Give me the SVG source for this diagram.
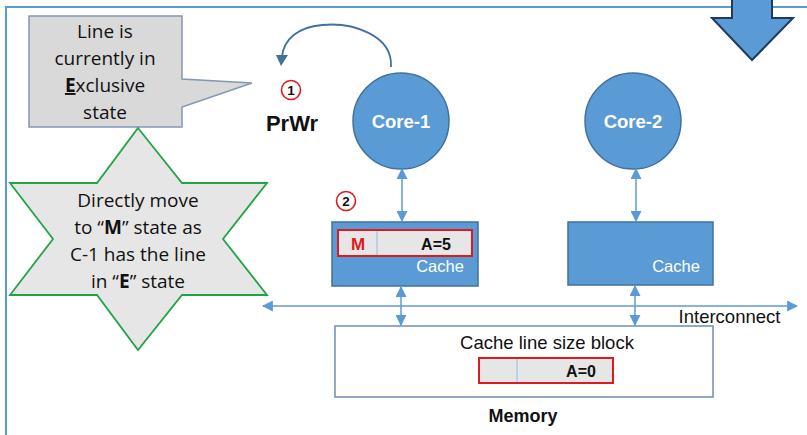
<svg xmlns="http://www.w3.org/2000/svg" width="807" height="435" viewBox="0 0 807 435">
<defs>
<style>
.frame{fill:none;stroke:#5b9bd5;stroke-width:2}
.conn{stroke:#5b9bd5;stroke-width:1.5;fill:none}
.core{fill:#5b9bd5;stroke:#41719c;stroke-width:1.5}
.coretxt{font-family:"Liberation Sans",Arial,sans-serif;font-weight:bold;font-size:18.5px;fill:#fff;text-anchor:middle}
.cache{fill:#5b9bd5;stroke:#41719c;stroke-width:1.5}
.cachetxt{font-family:"Liberation Sans",Arial,sans-serif;font-size:16.5px;fill:#fff;text-anchor:middle}
.line{fill:#e6e6e6;stroke:#e0191c;stroke-width:2}
.div{stroke:#9dc3e6;stroke-width:1.2}
.bold{font-family:"Liberation Sans",Arial,sans-serif;font-weight:bold;text-anchor:middle}
.reg{font-family:"Liberation Sans",Arial,sans-serif;text-anchor:middle;fill:#111}
.note{font-family:"Open Sans","Noto Sans",sans-serif;font-size:19px;fill:#111;text-anchor:middle}
.step{fill:#fff;stroke:#e0191c;stroke-width:1.6}
</style>
<marker id="ah" viewBox="0 0 10 10" refX="9" refY="5" markerWidth="11" markerHeight="11" markerUnits="userSpaceOnUse" orient="auto-start-reverse">
<path d="M0,0 L10,5 L0,10 z" fill="#5b9bd5"/>
</marker>
</defs>

<path class="frame" d="M807,7 H6 V435"/>

<g id="bigarrow">
<path d="M732,-2 H772 V18 H793 L752,60 L712,18 H732 Z" fill="#5b9bd5" stroke="#1f3b5e" stroke-width="2" stroke-linejoin="miter"/>
</g>

<g id="callout">
<path d="M29,16 H182 V79 L252,83 L182,107 V127 H29 Z" fill="#d9d9d9" stroke="#8497b0" stroke-width="1.5"/>
<text class="note" x="105" y="38">Line is</text>
<text class="note" x="105" y="65">currently in</text>
<text class="note" x="105" y="92"><tspan text-decoration="underline" font-weight="bold">E</tspan>xclusive</text>
<text class="note" x="105" y="119">state</text>
</g>

<g id="star">
<path d="M138,128 L182,183 L267,183 L223,239 L267,295 L182,295 L138,350 L97,295 L10,295 L53,239 L10,183 L97,183 Z" fill="#e6e6e6" stroke="#22a346" stroke-width="1.8"/>
<text class="note" x="138" y="207">Directly move</text>
<text class="note" x="138" y="234">to “<tspan font-weight="bold">M</tspan>” state as</text>
<text class="note" x="138" y="261">C-1 has the line</text>
<text class="note" x="138" y="288">in “<tspan font-weight="bold">E</tspan>” state</text>
</g>

<g id="step1">
<circle class="step" cx="291" cy="90" r="9.5"/>
<text class="bold" x="291" y="95" font-size="13.5" fill="#111">1</text>
<text class="bold" x="292" y="131" font-size="22" fill="#111">PrWr</text>
</g>

<g id="step2">
<circle class="step" cx="346" cy="201" r="9.5"/>
<text class="bold" x="346" y="206" font-size="13.5" fill="#111">2</text>
</g>

<g id="core1">
<circle class="core" cx="401" cy="121" r="48"/>
<text class="coretxt" x="401" y="128">Core-1</text>
</g>

<g id="core2">
<circle class="core" cx="633" cy="121" r="48"/>
<text class="coretxt" x="633" y="128">Core-2</text>
</g>

<g id="cache1">
<rect class="cache" x="332" y="222" width="146" height="64"/>
<rect class="line" x="338" y="230" width="134" height="26"/>
<line class="div" x1="377" y1="231" x2="377" y2="255"/>
<text class="bold" x="358" y="250" font-size="17" fill="#e0191c">M</text>
<text class="bold" x="436" y="250" font-size="16" fill="#111">A=5</text>
<text class="cachetxt" x="440" y="272">Cache</text>
</g>

<g id="cache2">
<rect class="cache" x="568" y="222" width="145" height="63"/>
<text class="cachetxt" x="676" y="272">Cache</text>
</g>

<g id="memory">
<rect x="335" y="326" width="378" height="71" fill="#fff" stroke="#6f8db3" stroke-width="1.5"/>
<text class="reg" x="547" y="349" font-size="18.5">Cache line size block</text>
<rect class="line" x="479" y="358" width="134" height="25"/>
<line class="div" x1="517" y1="359" x2="517" y2="382"/>
<text class="bold" x="581" y="377" font-size="16" fill="#111">A=0</text>
<text class="bold" x="523" y="422" font-size="18" fill="#111">Memory</text>
</g>

<g id="connectors">
<path d="M391,67 C393,35 352,22 322,25 C297,27 284,40 282,56" fill="none" stroke="#41719c" stroke-width="1.8"/>
<path d="M276,55 L288,55 L281,66 Z" fill="#41719c"/>
<line class="conn" x1="402" y1="169" x2="402" y2="221" marker-start="url(#ah)" marker-end="url(#ah)"/>
<line class="conn" x1="636" y1="169" x2="636" y2="221" marker-start="url(#ah)" marker-end="url(#ah)"/>
<line class="conn" x1="401" y1="287" x2="401" y2="325" marker-start="url(#ah)" marker-end="url(#ah)"/>
<line class="conn" x1="635" y1="286" x2="635" y2="325" marker-start="url(#ah)" marker-end="url(#ah)"/>
<line class="conn" x1="263" y1="306" x2="797" y2="306" marker-start="url(#ah)" marker-end="url(#ah)"/>
<text class="reg" x="729.5" y="323" font-size="18.5">Interconnect</text>
</g>
</svg>
